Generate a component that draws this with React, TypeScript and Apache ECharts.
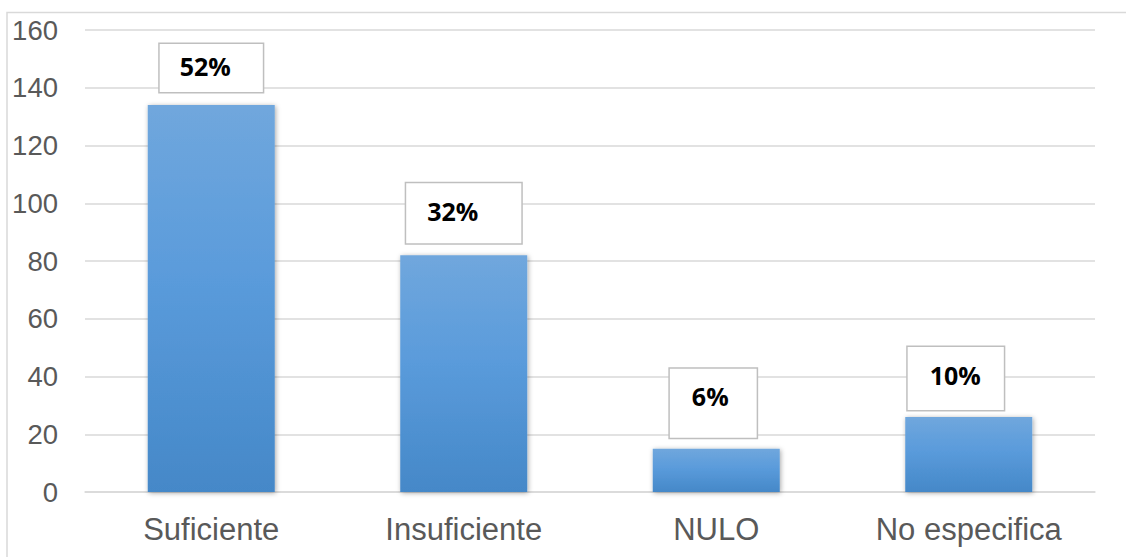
import React, { useEffect, useRef } from "react";
import * as echarts from "echarts";

const categories = ["Suficiente", "Insuficiente", "NULO", "No especifica"];
const counts = [134, 82, 15, 26];
const percentLabels = ["52%", "32%", "6%", "10%"];
const yTicks = [0, 20, 40, 60, 80, 100, 120, 140, 160];

// label box styling per bar (padding [top,right,bottom,left], distance, x offset)
const labelBoxStyles = [
  { padding: [10, 32, 14, 20], distance: 13, dx: 0 },
  { padding: [16, 43, 20, 21], distance: 12, dx: 0 },
  { padding: [15, 28, 30, 22], distance: 11, dx: -3 },
  { padding: [16, 23, 23, 22], distance: 7, dx: -13 },
];

export default function App() {
  const ref = useRef<HTMLDivElement>(null);
  useEffect(() => {
    if (!ref.current) return;
    const chart = echarts.init(ref.current, null, { renderer: "svg" });
    const data = counts.map((v, i) => ({
      value: v,
      label: {
        show: true,
        position: "top",
        formatter: percentLabels[i],
        distance: labelBoxStyles[i].distance,
        offset: [labelBoxStyles[i].dx, 0],
        padding: labelBoxStyles[i].padding,
        borderColor: "#bfbfbf",
        borderWidth: 1.5,
        backgroundColor: "#ffffff",
        color: "#000000",
        fontWeight: "bold",
        fontSize: 25,
        lineHeight: 24,
        fontFamily: "Open Sans, Liberation Sans, sans-serif",
      },
    }));
    chart.setOption({
      animation: false,
      backgroundColor: "#ffffff",
      grid: { left: 85, right: 31, top: 30, bottom: 65, containLabel: false },
      graphic: [
        {
          type: "rect",
          shape: { x: 7, y: 12.5, width: 1300, height: 700 },
          style: { fill: "none", stroke: "#d9d9d9", lineWidth: 1.5 },
          silent: true,
          z: -1,
        },
      ],
      xAxis: {
        type: "category",
        data: categories,
        axisLine: { show: true, lineStyle: { color: "#d9d9d9", width: 1.5 } },
        axisTick: { show: false },
        axisLabel: {
          color: "#595959",
          fontSize: 31,
          fontFamily: "Liberation Sans, Arial, sans-serif",
          margin: 22,
        },
      },
      yAxis: {
        type: "value",
        min: yTicks[0],
        max: yTicks[yTicks.length - 1],
        interval: yTicks[1] - yTicks[0],
        axisLine: { show: false },
        axisTick: { show: false },
        splitLine: { show: true, lineStyle: { color: "#d9d9d9", width: 1.5 } },
        axisLabel: {
          color: "#595959",
          fontSize: 27.5,
          fontFamily: "Liberation Sans, Arial, sans-serif",
          margin: 27,
        },
      },
      series: [
        {
          type: "bar",
          data,
          barWidth: 127,
          itemStyle: {
            color: new echarts.graphic.LinearGradient(0, 0, 0, 1, [
              { offset: 0, color: "#70a7dd" },
              { offset: 0.45, color: "#5a9bdb" },
              { offset: 1, color: "#4588c8" },
            ]),
            shadowColor: "rgba(0,0,0,0.35)",
            shadowBlur: 5,
            shadowOffsetX: 1,
            shadowOffsetY: 1,
          },
        },
      ],
    });
    return () => chart.dispose();
  }, []);
  return (
    <div
      ref={ref}
      style={{ position: "fixed", left: 0, top: 0, width: 1126, height: 557 }}
    />
  );
}
